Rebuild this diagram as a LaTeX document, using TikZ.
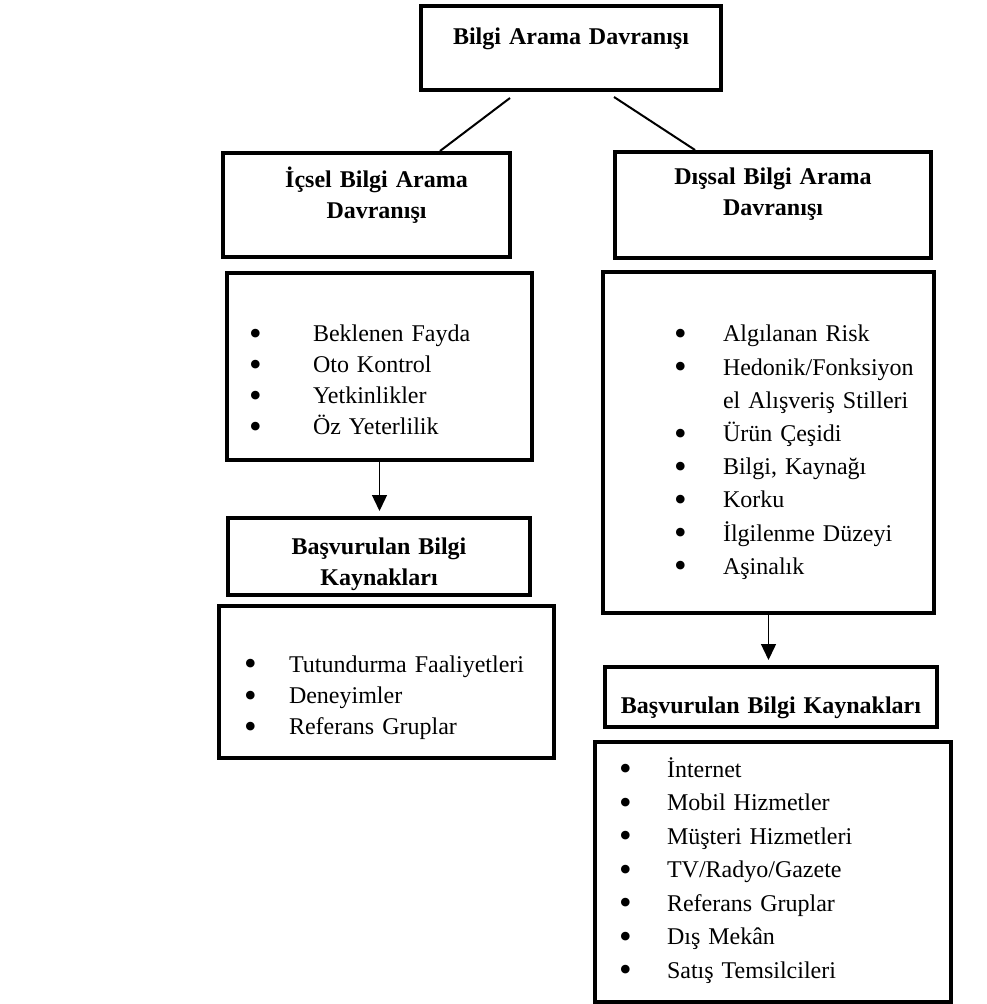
\documentclass[tikz,border=0pt]{standalone}
\usepackage{fontspec}
\usepackage{graphicx}
\setmainfont{Liberation Serif}
\usetikzlibrary{arrows.meta}

\newlength\girinti
\newlength\aralik
\newcommand{\nokta}{\smash{\raisebox{-0.15em}{\scalebox{1.5}{\textbullet}}}}
\newcommand{\madde}[1]{\hspace*{\girinti}\makebox[\aralik][l]{\nokta}#1}
\newcommand{\devam}[1]{\hspace*{\girinti}\hspace*{\aralik}#1}

\begin{document}
\begin{tikzpicture}[%
    x=0.5pt, y=-0.5pt,
    kutu/.style 2 args={draw, line width=2pt, inner sep=0pt,
      minimum width=#1, minimum height=#2, text width=#1, text height=8.2pt},
    baslik/.style={align=center, font=\fontsize{12pt}{15.5pt}\selectfont\bfseries},
    liste/.style n args={3}{align=left, font=\fontsize{12pt}{#3}\selectfont,
      execute at begin node={\setlength\girinti{#1}\setlength\aralik{#2}}},
    cizgi/.style={line width=1pt},
    ok/.style={line width=0.7pt, -{Triangle[width=7.5pt,length=8pt]}, shorten >=2.5pt}]
  \useasboundingbox (0,0) rectangle (986,1004);

  % basliklar
  \node[kutu={150pt}{42pt}, baslik, text depth=11.2pt] (ana) at (571,48)
    {Bilgi Arama Davranışı};
  \node[kutu={143.5pt}{52pt}, baslik, text depth=25.2pt] (icsel) at (366.5,205)
    {\hspace*{10pt}İçsel Bilgi Arama\\\hspace*{10pt}Davranışı};
  \node[kutu={158pt}{53pt}, baslik, text depth=28.2pt] (dissal) at (773,205)
    {Dışsal Bilgi Arama\\Davranışı};

  % icsel taraf
  \node[kutu={152.5pt}{93.5pt}, liste={11pt}{32pt}{15.5pt}, text depth=32.7pt]
    (icselliste) at (379.5,366.5)
    {\madde{Beklenen Fayda}\\\madde{Oto Kontrol}\\\madde{Yetkinlikler}\\\madde{Öz Yeterlilik}};
  \node[kutu={151pt}{38.5pt}, baslik, text depth=10.7pt] (icselkaynak) at (379,556.5)
    {Başvurulan Bilgi\\Kaynakları};
  \node[kutu={167.5pt}{76pt}, liste={12.5pt}{22.5pt}{15.7pt}, text depth=18.2pt]
    (icselkaynakliste) at (386.5,682)
    {\madde{Tutundurma Faaliyetleri}\\\madde{Deneyimler}\\\madde{Referans Gruplar}};

  % dissal taraf
  \node[kutu={165.5pt}{170.5pt}, liste={35.5pt}{24.5pt}{16.6pt}, text depth=108.7pt]
    (dissalliste) at (768.5,442.5)
    {\madde{Algılanan Risk}\\\madde{Hedonik/Fonksiyon}\\\devam{el Alışveriş Stilleri}\\
     \madde{Ürün Çeşidi}\\\madde{Bilgi, Kaynağı}\\\madde{Korku}\\
     \madde{İlgilenme Düzeyi}\\\madde{Aşinalık}};
  \node[kutu={166pt}{30pt}, baslik, text height=18.6pt, text depth=2.6pt]
    (dissalkaynak) at (771,697)
    {Başvurulan Bilgi Kaynakları};
  \node[kutu={178pt}{130pt}, liste={12pt}{24pt}{16.75pt}, text depth=103.2pt]
    (dissalkaynakliste) at (773,872)
    {\madde{İnternet}\\\madde{Mobil Hizmetler}\\\madde{Müşteri Hizmetleri}\\
     \madde{TV/Radyo/Gazete}\\\madde{Referans Gruplar}\\\madde{Dış Mekân}\\
     \madde{Satış Temsilcileri}};

  \draw[cizgi] ([shift={(-61,6)}]ana.south) -- ([shift={(73.5,0)}]icsel.north);
  \draw[cizgi] ([shift={(43,5)}]ana.south) -- ([shift={(-78,0)}]dissal.north);
  \draw[ok] (icselliste.south) -- (icselliste.south |- icselkaynak.north);
  \draw[ok] (dissalliste.south) -- (dissalliste.south |- dissalkaynak.north);
\end{tikzpicture}
\end{document}
